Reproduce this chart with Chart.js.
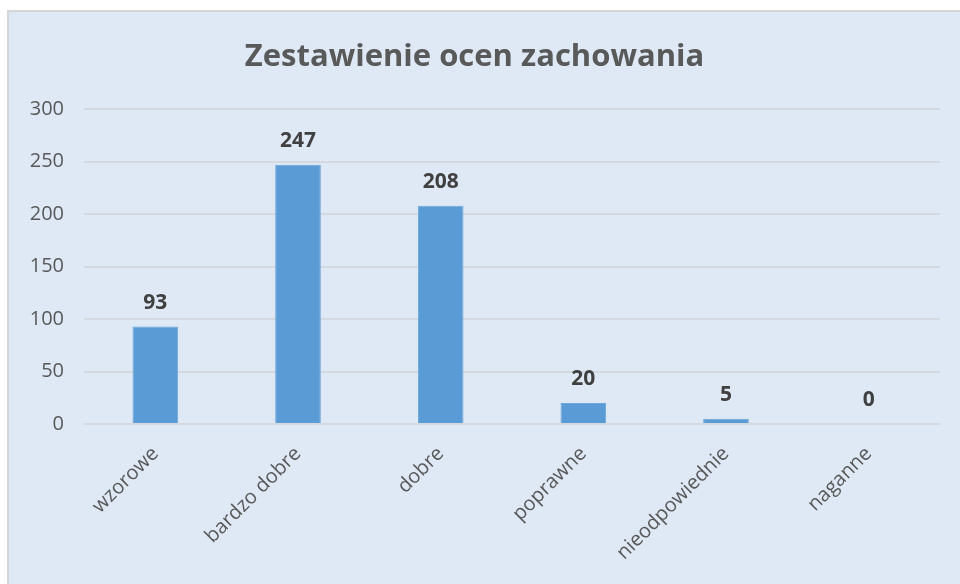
<!DOCTYPE html>
<html>
<head>
<meta charset="utf-8">
<script src="https://cdn.jsdelivr.net/npm/chart.js@4/dist/chart.umd.min.js"></script>
<style>
  html, body { margin: 0; padding: 0; background: #ffffff; }
  #box {
    position: absolute; left: 7px; top: 10px; width: 953px; height: 574px;
    background: #dee9f5; border-left: 2px solid #d6d6d6; border-top: 2px solid #d6d6d6;
    box-sizing: border-box;
  }
  canvas { position: absolute; left: 0; top: 0; }
</style>
</head>
<body>
<div id="box"><canvas id="chart" width="951" height="572"></canvas></div>
<script>
const categories = ['wzorowe', 'bardzo dobre', 'dobre', 'poprawne', 'nieodpowiednie', 'naganne'];
const counts = [93, 247, 208, 20, 5, 0];
const yTicks = [0, 50, 100, 150, 200, 250, 300];

let ctx = document.getElementById('chart').getContext('2d');

// value labels above each bar
const valueLabels = {
  id: 'valueLabels',
  afterDatasetsDraw(chart) {
    let c = chart.ctx;
    let meta = chart.getDatasetMeta(0);
    c.save();
    c.font = 'bold 21px "Open Sans"';
    c.fillStyle = '#404040';
    c.textAlign = 'center';
    c.textBaseline = 'bottom';
    meta.data.forEach((bar, i) => {
      c.fillText(String(counts[i]), bar.x, bar.y - 13);
    });
    c.restore();
  }
};

let chart = new Chart(ctx, {
  type: 'bar',
  data: {
    labels: categories,
    datasets: [{
      data: counts,
      backgroundColor: '#5b9bd5',
      borderColor: '#6aa6dc',
      borderWidth: 1,
      categoryPercentage: 1,
      barPercentage: 0.32
    }]
  },
  options: {
    responsive: false,
    animation: false,
    devicePixelRatio: 1,
    layout: { padding: { left: 0, right: 20, top: 0, bottom: 0 } },
    plugins: {
      legend: { display: false },
      tooltip: { enabled: false },
      title: {
        display: true,
        text: 'Zestawienie ocen zachowania',
        color: '#595959',
        font: { family: 'Open Sans', size: 31, weight: 'bold' },
        padding: { top: 27, bottom: 33 }
      }
    },
    scales: {
      y: {
        min: 0,
        max: 300,
        afterBuildTicks(scale) { scale.ticks = yTicks.map(v => ({ value: v })); },
        afterFit(scale) { scale.width = 75; },
        border: { display: false },
        grid: { color: '#d4d9df', lineWidth: 2, drawTicks: false },
        ticks: { color: '#595959', padding: 20, font: { family: 'Open Sans', size: 20 } }
      },
      x: {
        afterFit(scale) { scale.height = 160; },
        border: { display: false },
        grid: { display: false, drawTicks: false },
        ticks: {
          color: '#595959',
          autoSkip: false,
          minRotation: 45,
          maxRotation: 45,
          padding: 18,
          font: { family: 'Open Sans', size: 20 }
        }
      }
    }
  },
  plugins: [valueLabels]
});
</script>
</body>
</html>
